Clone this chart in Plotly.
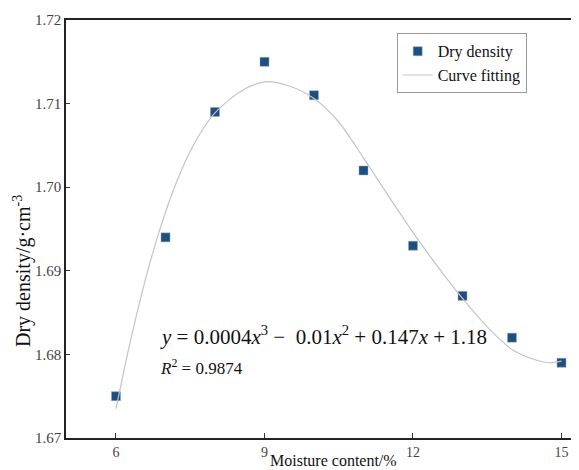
import plotly.graph_objects as go

# Measured data
moisture = [6, 7, 8, 9, 10, 11, 12, 13, 14, 15]
dry_density = [1.675, 1.694, 1.709, 1.715, 1.711, 1.702, 1.693, 1.687, 1.682, 1.679]

# Fitted curve
curve_x = [6.0, 6.25, 6.5, 6.75, 7.0, 7.25, 7.5, 7.75, 8.0, 8.5, 9.0, 9.5, 10.0, 10.5, 11.0,
           11.5, 12.0, 12.5, 13.0, 13.5, 14.0, 14.5, 14.75, 15.0]
curve_y = [1.6735, 1.6805, 1.6868, 1.6923, 1.6970, 1.7010, 1.7043, 1.7069, 1.7089, 1.7114,
           1.7126, 1.7121, 1.7106, 1.7078, 1.7035, 1.6990, 1.6946, 1.6905, 1.6867, 1.6833,
           1.6806, 1.6793, 1.6790, 1.6792]

x_ticks = [6, 9, 12, 15]
y_ticks = [1.67, 1.68, 1.69, 1.70, 1.71, 1.72]
y_ticktext = ["1.67", "1.68", "1.69", "1.70", "1.71", "1.72"]

# page body has an 8px margin; figure is sized to fill the rest of the window
OFF = 8
W, H = 579 - OFF, 470 - OFF
L, R, T, B = 66 - OFF, 0, 20 - OFF, 32
FONT = "Liberation Serif"
PW, PH = W - L - R, H - T - B


def px(xpix):
    return (xpix - OFF - L) / PW


def py(ypix):
    return (H - B - (ypix - OFF)) / PH


fig = go.Figure()
fig.add_trace(go.Scatter(
    x=moisture, y=dry_density, mode="markers", name="Dry density",
    marker=dict(symbol="square", size=9, color="#1F4F7E",
                line=dict(color="#8FA8C0", width=0.5)),
))
fig.add_trace(go.Scatter(
    x=curve_x, y=curve_y, mode="lines", name="Curve fitting",
    line=dict(color="#C4C4C4", width=1.2, shape="spline", smoothing=0.8),
))

fig.update_layout(
    width=W, height=H,
    margin=dict(l=L, r=R, t=T, b=B, pad=0),
    paper_bgcolor="white", plot_bgcolor="white",
    font=dict(family=FONT, color="#222222"),
    showlegend=True,
    legend=dict(
        x=px(396.7), y=py(33.3),
        xanchor="left", yanchor="top",
        bgcolor="white", bordercolor="#9A9A9A", borderwidth=1,
        font=dict(family=FONT, size=16, color="#111111"),
        traceorder="normal", itemwidth=30,
    ),
    xaxis=dict(
        range=[4.99, 15.354], tickvals=x_ticks, ticks="inside", ticklen=5,
        tickwidth=1, tickcolor="#333333",
        showline=True, linecolor="#222222", linewidth=1.5, mirror=True,
        showgrid=False, zeroline=False,
        tickfont=dict(family=FONT, size=14, color="#444444"),
    ),
    yaxis=dict(
        range=[1.67, 1.72], tickvals=y_ticks, ticktext=y_ticktext,
        ticks="inside", ticklen=4, tickwidth=1, tickcolor="#333333",
        showline=True, linecolor="#222222", linewidth=1.5, mirror=False,
        showgrid=False, zeroline=False,
        tickfont=dict(family=FONT, size=15, color="#444444"),
    ),
    annotations=[
        dict(text="Moisture content/%", xref="paper", yref="paper",
             x=px(333), y=py(460.5),
             xanchor="center", yanchor="middle", showarrow=False,
             font=dict(family=FONT, size=16, color="#111111")),
        dict(text="Dry density/g·cm<sup>-3</sup>", xref="paper", yref="paper",
             x=px(22), y=py(271),
             xanchor="center", yanchor="middle", showarrow=False, textangle=-90,
             font=dict(family=FONT, size=20, color="#111111")),
        dict(text="<i>y</i> = 0.0004<i>x</i><sup>3</sup> −  0.01<i>x</i><sup>2</sup> + 0.147<i>x</i> + 1.18",
             xref="paper", yref="paper",
             x=px(158), y=py(335),
             xanchor="left", yanchor="middle", showarrow=False,
             font=dict(family=FONT, size=21, color="#111111")),
        dict(text="<i>R</i><sup>2</sup> = 0.9874",
             xref="paper", yref="paper",
             x=px(158), y=py(367),
             xanchor="left", yanchor="middle", showarrow=False,
             font=dict(family=FONT, size=17, color="#111111")),
    ],
)

fig.write_html("out.html")
